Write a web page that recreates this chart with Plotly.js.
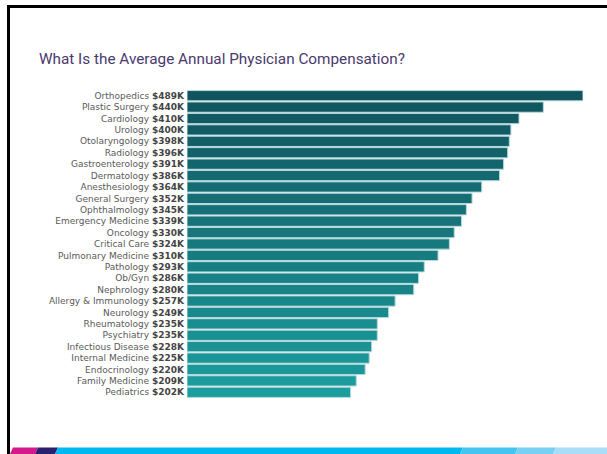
<!DOCTYPE html>
<html>
<head>
<meta charset="utf-8">
<script src="https://cdn.plot.ly/plotly-3.0.1.min.js"></script>
<style>html,body{margin:0;padding:0;background:#fff;}#chart{width:607px;height:454px;}</style>
</head>
<body>
<div id="chart"></div>
<script>
// ---- data ----
const specialties = ["Orthopedics","Plastic Surgery","Cardiology","Urology","Otolaryngology","Radiology","Gastroenterology","Dermatology","Anesthesiology","General Surgery","Ophthalmology","Emergency Medicine","Oncology","Critical Care","Pulmonary Medicine","Pathology","Ob/Gyn","Nephrology","Allergy & Immunology","Neurology","Rheumatology","Psychiatry","Infectious Disease","Internal Medicine","Endocrinology","Family Medicine","Pediatrics"];
const compensationK = [489,440,410,400,398,396,391,386,364,352,345,339,330,324,310,293,286,280,257,249,235,235,228,225,220,209,202];
const valueLabels = ["$489K","$440K","$410K","$400K","$398K","$396K","$391K","$386K","$364K","$352K","$345K","$339K","$330K","$324K","$310K","$293K","$286K","$280K","$257K","$249K","$235K","$235K","$228K","$225K","$220K","$209K","$202K"];
const titleText = "What Is the Average Annual Physician Compensation?";

// ---- layout geometry ----
const W = 607, H = 454;
const ml = 187, mr = 24, mt = 90, mb = 56;
const pw = W - ml - mr, ph = H - mt - mb;
const px = x => (x - ml) / pw;
const py = y => (H - mb - y) / ph;

// colour gradient, dark teal to lighter teal
const c0 = [17, 84, 94], c1 = [27, 158, 158];
const n = specialties.length;
const colors = specialties.map((_, i) => {
  const t = i / (n - 1);
  const c = c0.map((v, k) => Math.round(v + (c1[k] - v) * t));
  return `rgb(${c[0]},${c[1]},${c[2]})`;
});

const tickText = specialties.map((s, i) =>
  `<span style="color:#5a5a5a">${s}</span> <span style="font-weight:bold;color:#444">${valueLabels[i]}</span>`);

const trace = {
  type: 'bar',
  orientation: 'h',
  x: compensationK,
  y: specialties,
  marker: { color: colors, line: { color: '#b9d9dd', width: 1 } },
  hoverinfo: 'skip'
};

function rectPath(x0, x1, y0, y1, slantTop, slantBot) {
  return `M ${px(x0)} ${py(y1)} L ${px(x0 + slantTop)} ${py(y0)} L ${px(x1 + slantBot)} ${py(y0)} L ${px(x1)} ${py(y1)} Z`;
}

const stripTop = 447.5, stripBot = 454;
const strip = [
  { x0: 10, x1: 35, c: '#d5198c' },
  { x0: 35, x1: 55, c: '#27216f' },
  { x0: 55, x1: 460, c: '#00b8f0' },
  { x0: 460, x1: 515, c: '#45c3f1' },
  { x0: 515, x1: 553, c: '#78d0f4' },
  { x0: 553, x1: 607, c: '#a9ddf8' }
];
const shapes = strip.map(s => ({
  type: 'path', xref: 'paper', yref: 'paper', layer: 'above',
  path: rectPath(s.x0, s.x1, stripTop, stripBot, 3, 3),
  fillcolor: s.c, line: { width: 0 }
}));
// frame lines (top and left)
shapes.push({ type: 'line', xref: 'paper', yref: 'paper', x0: px(7), x1: px(607), y0: py(6.5), y1: py(6.5), line: { color: '#000', width: 3 } });
shapes.push({ type: 'line', xref: 'paper', yref: 'paper', x0: px(8.5), x1: px(8.5), y0: py(5), y1: py(454), line: { color: '#000', width: 3 } });

const layout = {
  width: W, height: H,
  margin: { l: ml, r: mr, t: mt, b: mb, pad: 0 },
  paper_bgcolor: '#fff', plot_bgcolor: '#fff',
  showlegend: false,
  bargap: 0.1,
  title: {
    text: titleText,
    x: 39 / W, xanchor: 'left', xref: 'container',
    y: 1 - 59 / H, yanchor: 'middle', yref: 'container',
    font: { family: 'Roboto, sans-serif', size: 15.3, color: '#4a3a6c' }
  },
  xaxis: { range: [0, 489], showgrid: false, zeroline: false, showticklabels: false, ticks: '', fixedrange: true },
  yaxis: {
    autorange: 'reversed', showgrid: false, zeroline: false, ticks: '',
    tickmode: 'array', tickvals: specialties, ticktext: tickText,
    ticklabelstandoff: 2,
    tickfont: { family: '"DejaVu Sans", sans-serif', size: 9, color: '#5a5a5a' }
  },
  shapes: shapes
};

Plotly.newPlot('chart', [trace], layout, { displayModeBar: false, staticPlot: true });
</script>
</body>
</html>
